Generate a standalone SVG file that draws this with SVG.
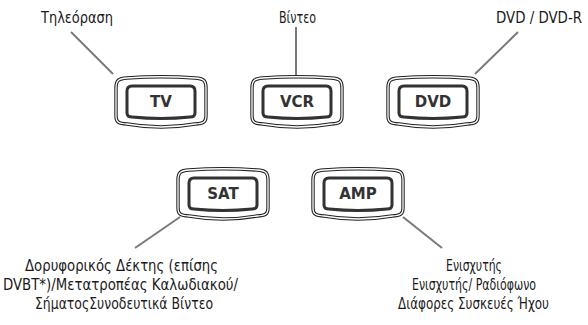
<svg xmlns="http://www.w3.org/2000/svg" xmlns:xlink="http://www.w3.org/1999/xlink" width="588" height="325" viewBox="0 0 588 325">
<style>
.lbl{font-family:"Liberation Sans Narrow","DejaVu Sans Condensed","Liberation Sans",sans-serif;font-size:16px;fill:#1a1a1a}
.btxt{font-family:"DejaVu Sans",sans-serif;font-weight:bold;font-size:15px;fill:#333;text-anchor:middle}
.lead{stroke:#7a7a7a;stroke-width:2;fill:none;stroke-linecap:butt}
.o1{fill:#fff;stroke:#222;stroke-width:3.4}
.o2{fill:none;stroke:#fff;stroke-width:1.3}
.in{fill:#fff;stroke:#333;stroke-width:3;stroke-linejoin:round}
</style>
<defs>
<g id="btn">
<path class="o1" d="M1,12 C1,4 4,2.5 12,2 Q46,-0.5 80,2 C88,2.5 91,4 91,12 L91,40 C91,46.5 88,47.5 80,48 Q46,54 12,48 C4,47.5 1,46.5 1,40 Z"/>
<path class="o2" d="M1,12 C1,4 4,2.5 12,2 Q46,-0.5 80,2 C88,2.5 91,4 91,12 L91,40 C91,46.5 88,47.5 80,48 Q46,54 12,48 C4,47.5 1,46.5 1,40 Z"/>
<path class="in" d="M12,15 Q12,10 17,10 L75,10 Q80,10 80,15 L80,37 Q80,41 75,41 Q46,44 17,41 Q12,41 12,37 Z"/>
</g>
</defs>
<rect width="588" height="325" fill="#fff"/>
<g id="connectors">
<line class="lead" x1="71" y1="32" x2="113" y2="74"/>
<line class="lead" x1="296" y1="27" x2="296" y2="75"/>
<line class="lead" x1="518" y1="32" x2="475" y2="74"/>
<line class="lead" x1="180" y1="217" x2="135" y2="248"/>
<line class="lead" x1="403" y1="217" x2="442" y2="248"/>
</g>
<g id="tv">
<use xlink:href="#btn" x="115" y="76"/>
<text class="btxt" x="161" y="107">TV</text>
<text class="lbl" x="41" y="23" textLength="72" lengthAdjust="spacingAndGlyphs">Τηλεόραση</text>
</g>
<g id="vcr">
<use xlink:href="#btn" x="251" y="76"/>
<text class="btxt" x="297" y="107">VCR</text>
<text class="lbl" x="279" y="23" textLength="37" lengthAdjust="spacingAndGlyphs">Βίντεο</text>
</g>
<g id="dvd">
<use xlink:href="#btn" x="387" y="76"/>
<text class="btxt" x="433" y="107">DVD</text>
<text class="lbl" x="496" y="23" textLength="86" lengthAdjust="spacingAndGlyphs">DVD / DVD-R</text>
</g>
<g id="sat">
<use xlink:href="#btn" x="177" y="168"/>
<text class="btxt" x="223" y="199">SAT</text>
<text class="lbl" x="25" y="271" textLength="193" lengthAdjust="spacingAndGlyphs">Δορυφορικός Δέκτης  (επίσης</text>
<text class="lbl" x="3" y="290" textLength="235" lengthAdjust="spacingAndGlyphs">DVBT*)/Μετατροπέας Καλωδιακού/</text>
<text class="lbl" x="35" y="309" textLength="178" lengthAdjust="spacingAndGlyphs">ΣήματοςΣυνοδευτικά Βίντεο</text>
</g>
<g id="amp">
<use xlink:href="#btn" x="312" y="168"/>
<text class="btxt" x="358" y="199">AMP</text>
<text class="lbl" x="446" y="271" textLength="56" lengthAdjust="spacingAndGlyphs">Ενισχυτής</text>
<text class="lbl" x="412" y="290" textLength="124" lengthAdjust="spacingAndGlyphs">Ενισχυτής/ Ραδιόφωνο</text>
<text class="lbl" x="398" y="309" textLength="151" lengthAdjust="spacingAndGlyphs">Διάφορες Συσκευές Ήχου</text>
</g>
</svg>
